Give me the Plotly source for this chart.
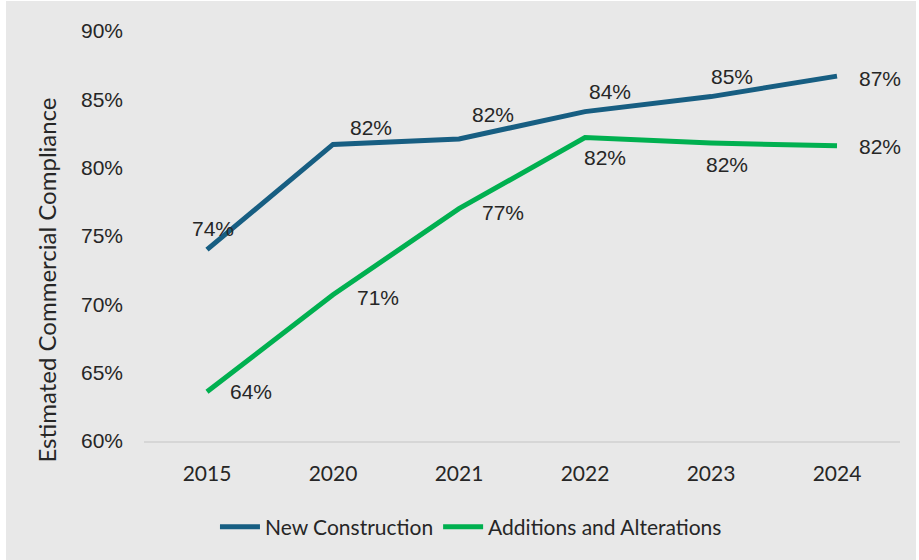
import plotly.graph_objects as go

years = ["2015", "2020", "2021", "2022", "2023", "2024"]
new_construction = [0.740, 0.817, 0.821, 0.841, 0.852, 0.867]
additions_alterations = [0.636, 0.707, 0.770, 0.822, 0.818, 0.816]
y_ticks = [0.60, 0.65, 0.70, 0.75, 0.80, 0.85, 0.90]

NC_COLOR = "#175e82"
AA_COLOR = "#00b050"
TEXT = "#262626"
BG = "#e8e8e8"

# label offsets (px) relative to each point
nc_offsets = [(6, 21), (38, 17), (34, 24), (25, 20), (21, 20), (43, -2)]
aa_offsets = [(44, 0), (45, -3), (44, -4), (20, -20), (16, -21), (43, -1)]

fig = go.Figure()
fig.add_trace(go.Scatter(x=years, y=new_construction, mode="lines",
                         name="New Construction",
                         line=dict(color=NC_COLOR, width=5)))
fig.add_trace(go.Scatter(x=years, y=additions_alterations, mode="lines",
                         name="Additions and Alterations",
                         line=dict(color=AA_COLOR, width=5)))

annotations = []
for vals, offs in ((new_construction, nc_offsets), (additions_alterations, aa_offsets)):
    # category positions are given by index so the year strings are not read as numbers
    for idx, (v, (dx, dy)) in enumerate(zip(vals, offs)):
        annotations.append(dict(x=idx, y=v, xref="x", yref="y", text=f"{v:.0%}",
                                showarrow=False, xshift=dx, yshift=dy,
                                font=dict(family="Liberation Sans, Arial", size=21, color=TEXT)))

# axis title placed as free text
annotations.append(dict(x=-0.151, y=0.392, xref="paper", yref="paper",
                        text="Estimated Commercial Compliance", textangle=-90,
                        showarrow=False,
                        font=dict(family="Lato", size=24, color=TEXT)))

fig.update_layout(
    width=919, height=560,
    margin=dict(l=144, r=19, t=31, b=119),
    paper_bgcolor="white", plot_bgcolor=BG,
    showlegend=True,
    legend=dict(orientation="h", x=0.4325, xanchor="center", y=-0.21, yanchor="middle",
                bgcolor="rgba(0,0,0,0)", font=dict(family="Lato", size=21, color=TEXT),
                itemwidth=40),
    annotations=annotations,
    shapes=[dict(type="rect", xref="paper", yref="paper",
                 x0=-0.1825, x1=1.0212, y0=-0.2902, y1=1.0732,
                 fillcolor=BG, line=dict(width=0), layer="below")],
    xaxis=dict(type="category", range=[-0.5, 5.5], showgrid=False, zeroline=False,
               showline=True, linecolor="#d6d6d6", linewidth=2, ticks="",
               ticklabelstandoff=13,
               tickfont=dict(family="Lato", size=21, color=TEXT)),
    yaxis=dict(range=[0.6, 0.9], tickvals=y_ticks, tickformat=".0%",
               showgrid=False, zeroline=False, showline=False, ticks="",
               ticklabelstandoff=20,
               tickfont=dict(family="Liberation Sans, Arial", size=21, color=TEXT)),
)

fig.write_html("out.html")
